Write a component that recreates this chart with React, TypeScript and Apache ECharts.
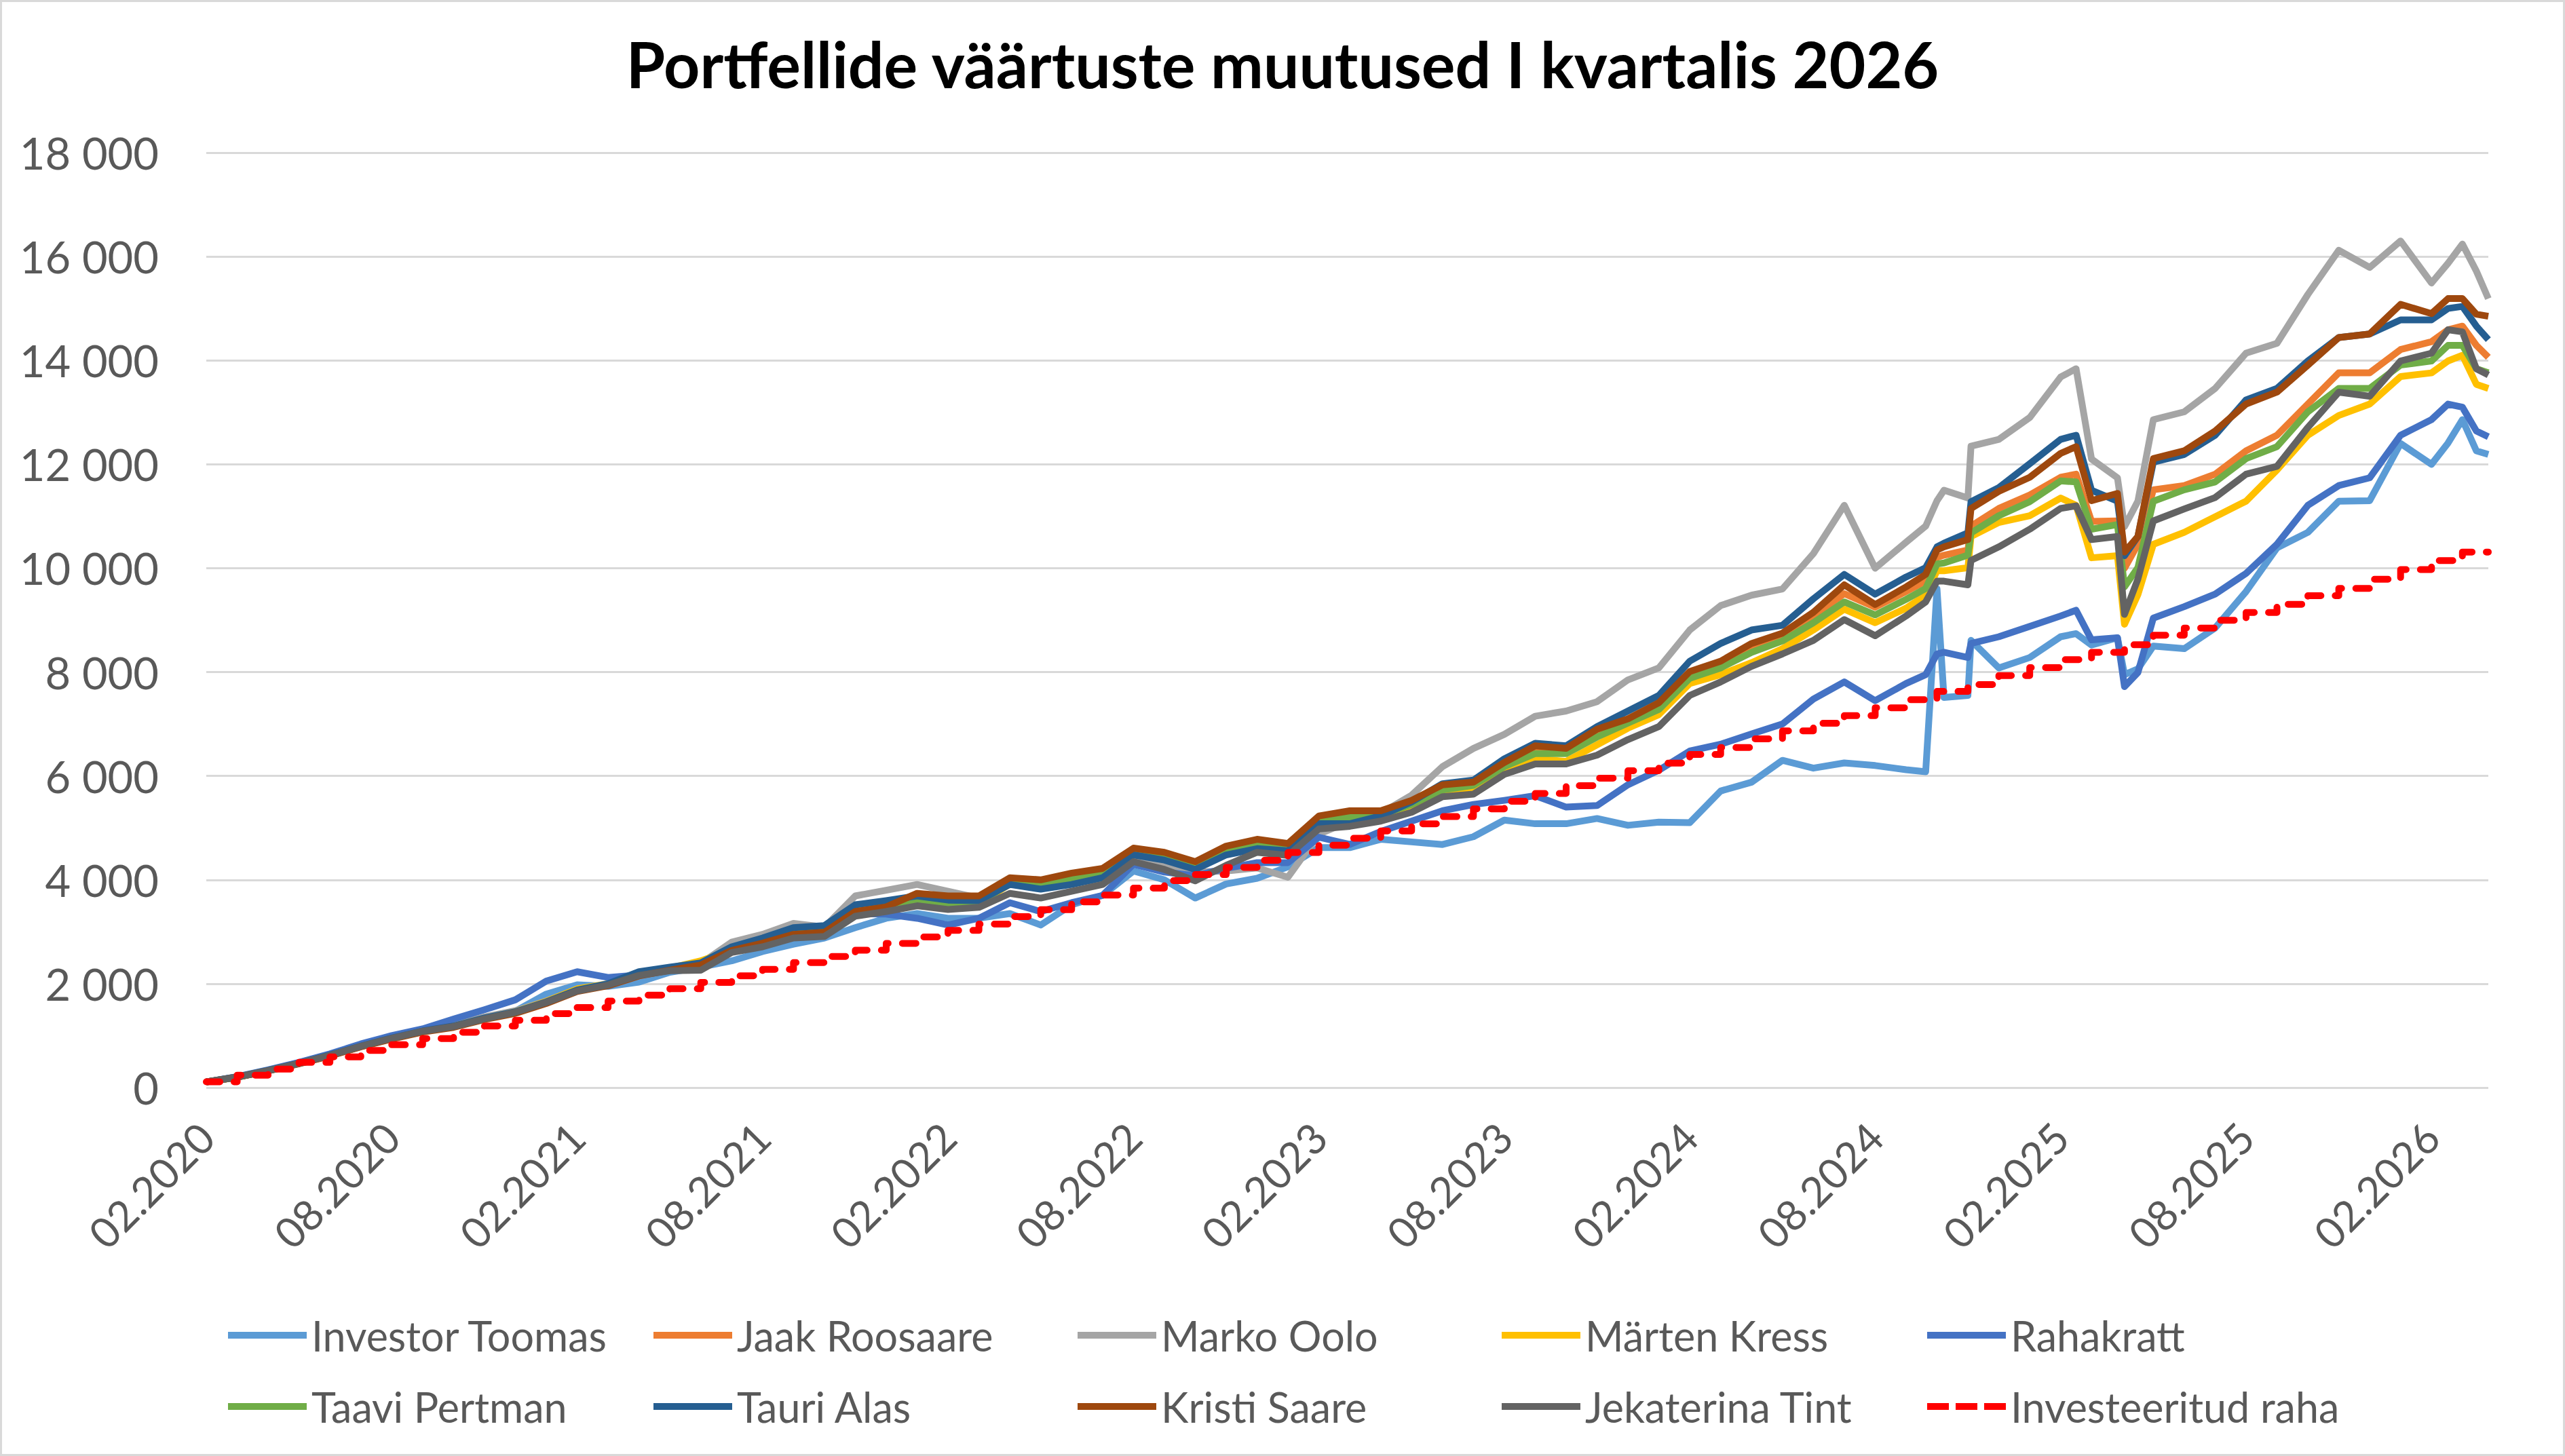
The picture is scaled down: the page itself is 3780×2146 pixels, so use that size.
import React, { useEffect, useRef } from "react";
import * as echarts from "echarts";

const dates = [
  "2020-02-05", "2020-03-05", "2020-04-05", "2020-05-05", "2020-06-05", "2020-07-05", "2020-08-05", "2020-09-05",
  "2020-10-05", "2020-11-05", "2020-12-05", "2021-01-05", "2021-02-05", "2021-03-05", "2021-04-05", "2021-05-05",
  "2021-06-05", "2021-07-05", "2021-08-05", "2021-09-05", "2021-10-05", "2021-11-05", "2021-12-05", "2022-01-05",
  "2022-02-05", "2022-03-05", "2022-04-05", "2022-05-05", "2022-06-05", "2022-07-05", "2022-08-05", "2022-09-05",
  "2022-10-05", "2022-11-05", "2022-12-05", "2023-01-05", "2023-02-05", "2023-03-05", "2023-04-05", "2023-05-05",
  "2023-06-05", "2023-07-05", "2023-08-05", "2023-09-05", "2023-10-05", "2023-11-05", "2023-12-05", "2024-01-05",
  "2024-02-05", "2024-03-05", "2024-04-05", "2024-05-05", "2024-06-05", "2024-07-05", "2024-08-05", "2024-09-05",
  "2024-09-24", "2024-10-05", "2024-10-12", "2024-11-05", "2024-11-08", "2024-12-05", "2025-01-05", "2025-02-05",
  "2025-02-19", "2025-03-05", "2025-03-31", "2025-04-07", "2025-04-20", "2025-05-05", "2025-06-05", "2025-07-05",
  "2025-08-05", "2025-09-05", "2025-10-05", "2025-11-05", "2025-12-05", "2026-01-05", "2026-02-05", "2026-02-20",
  "2026-03-05", "2026-03-19", "2026-03-31",
];

const investorToomas = [
  110, 205, 330, 475, 630, 810, 960, 1090, 1170, 1320, 1470, 1800, 1980, 1950, 2030, 2220,
  2320, 2440, 2620, 2760, 2880, 3080, 3260, 3350, 3260, 3260, 3350, 3130, 3520, 3700, 4170, 4000,
  3650, 3920, 4030, 4250, 4620, 4620, 4780, 4730, 4680, 4830, 5150, 5080, 5080, 5180, 5050, 5110,
  5100, 5710, 5880, 6300, 6150, 6250, 6200, 6120, 6080, 9600, 7510, 7550, 8610, 8080, 8280, 8680,
  8740, 8520, 8660, 7950, 8060, 8500, 8450, 8850, 9550, 10390, 10690, 11290, 11300, 12400, 12000, 12410,
  12860, 12260, 12190,
];
const jaakRoosaare = [
  110, 200, 325, 465, 615, 790, 945, 1080, 1175, 1330, 1450, 1640, 1870, 1980, 2170, 2280,
  2370, 2640, 2790, 2960, 3000, 3390, 3480, 3600, 3560, 3570, 3960, 3900, 4030, 4120, 4520, 4440,
  4300, 4580, 4720, 4650, 5180, 5230, 5270, 5480, 5780, 5880, 6230, 6560, 6500, 6830, 7050, 7350,
  7950, 8180, 8480, 8700, 9080, 9510, 9250, 9550, 9750, 10210, 10250, 10350, 10810, 11150, 11410, 11750,
  11810, 10900, 10910, 10000, 10460, 11510, 11590, 11810, 12260, 12560, 13160, 13760, 13760, 14210, 14360, 14590,
  14660, 14290, 14060,
];
const markoOolo = [
  110, 205, 335, 475, 630, 805, 965, 1100, 1210, 1360, 1480, 1670, 1890, 1990, 2160, 2290,
  2390, 2800, 2950, 3160, 3090, 3690, 3800, 3910, 3780, 3650, 3980, 3850, 3950, 4000, 4420, 4300,
  4150, 4170, 4230, 4050, 4880, 5130, 5280, 5630, 6180, 6530, 6800, 7150, 7250, 7430, 7850, 8080,
  8810, 9280, 9480, 9600, 10280, 11210, 10000, 10500, 10810, 11300, 11500, 11350, 12350, 12480, 12900, 13680,
  13840, 12100, 11740, 10800, 11290, 12860, 13010, 13460, 14140, 14330, 15270, 16120, 15790, 16300, 15490, 15870,
  16240, 15720, 15190,
];
const martenKress = [
  110, 200, 330, 470, 625, 800, 955, 1090, 1185, 1335, 1460, 1660, 1900, 2000, 2180, 2300,
  2440, 2650, 2800, 2970, 3010, 3410, 3490, 3560, 3520, 3530, 3920, 3880, 4000, 4080, 4500, 4400,
  4250, 4540, 4680, 4600, 5120, 5150, 5200, 5400, 5650, 5720, 6100, 6330, 6280, 6600, 6920, 7180,
  7780, 7950, 8180, 8450, 8810, 9210, 8950, 9230, 9480, 9950, 9950, 10010, 10610, 10880, 11010, 11350,
  11210, 10200, 10240, 8920, 9490, 10460, 10690, 10990, 11290, 11890, 12560, 12940, 13160, 13690, 13760, 13990,
  14100, 13540, 13460,
];
const rahakratt = [
  110, 210, 340, 485, 650, 840, 1000, 1130, 1320, 1500, 1690, 2050, 2230, 2120, 2170, 2300,
  2380, 2650, 2800, 2960, 3000, 3350, 3340, 3260, 3130, 3260, 3560, 3390, 3560, 3700, 4300, 4150,
  4080, 4220, 4330, 4330, 4820, 4680, 4930, 5130, 5330, 5450, 5530, 5620, 5400, 5430, 5830, 6110,
  6480, 6610, 6810, 7000, 7480, 7810, 7450, 7780, 7950, 8350, 8380, 8280, 8550, 8680, 8880, 9080,
  9190, 8620, 8660, 7720, 7990, 9040, 9260, 9500, 9900, 10460, 11210, 11590, 11740, 12560, 12860, 13160,
  13100, 12640, 12530,
];
const taaviPertman = [
  110, 200, 325, 465, 615, 790, 945, 1080, 1175, 1325, 1450, 1640, 1870, 1980, 2170, 2280,
  2380, 2640, 2790, 2960, 3000, 3390, 3470, 3580, 3540, 3550, 3940, 3880, 4010, 4100, 4510, 4420,
  4280, 4560, 4700, 4640, 5150, 5200, 5250, 5450, 5730, 5820, 6180, 6430, 6430, 6750, 7020, 7280,
  7880, 8080, 8380, 8600, 8950, 9350, 9100, 9400, 9610, 10080, 10100, 10250, 10680, 11010, 11280, 11680,
  11660, 10750, 10840, 9640, 10010, 11290, 11510, 11660, 12110, 12340, 13010, 13460, 13460, 13910, 13990, 14290,
  14290, 13840, 13760,
];
const tauriAlas = [
  110, 205, 330, 470, 625, 800, 955, 1090, 1185, 1340, 1460, 1650, 1880, 2000, 2230, 2320,
  2400, 2710, 2880, 3080, 3120, 3520, 3600, 3690, 3610, 3600, 3910, 3820, 3910, 4040, 4480, 4380,
  4200, 4480, 4600, 4560, 5080, 5080, 5230, 5500, 5850, 5920, 6330, 6630, 6580, 6950, 7250, 7550,
  8210, 8550, 8810, 8900, 9410, 9880, 9500, 9830, 10010, 10410, 10480, 10680, 11280, 11550, 12010, 12480,
  12560, 11500, 11290, 10240, 10610, 12040, 12190, 12560, 13240, 13460, 13990, 14440, 14510, 14780, 14780, 15000,
  15040, 14660, 14400,
];
const kristiSaare = [
  110, 200, 320, 460, 610, 785, 935, 1070, 1160, 1310, 1430, 1620, 1850, 1960, 2150, 2260,
  2360, 2640, 2780, 2950, 2990, 3390, 3480, 3740, 3690, 3690, 4040, 4000, 4130, 4220, 4610, 4530,
  4350, 4650, 4780, 4700, 5230, 5330, 5330, 5530, 5830, 5880, 6260, 6580, 6530, 6900, 7100, 7410,
  8010, 8210, 8550, 8750, 9150, 9680, 9300, 9640, 9880, 10350, 10410, 10550, 11150, 11480, 11750, 12210,
  12340, 11300, 11440, 10310, 10610, 12110, 12260, 12640, 13160, 13390, 13910, 14440, 14510, 15080, 14900, 15190,
  15190, 14890, 14850,
];
const jekaterinaTint = [
  110, 200, 325, 465, 620, 795, 950, 1085, 1175, 1325, 1450, 1640, 1860, 1975, 2160, 2250,
  2260, 2600, 2710, 2880, 2910, 3300, 3390, 3500, 3430, 3470, 3740, 3650, 3780, 3910, 4350, 4200,
  3980, 4280, 4530, 4470, 4980, 5030, 5130, 5300, 5600, 5650, 6030, 6230, 6230, 6400, 6700, 6950,
  7550, 7810, 8110, 8350, 8610, 9010, 8700, 9080, 9350, 9750, 9750, 9680, 10150, 10410, 10750, 11150,
  11200, 10550, 10610, 9110, 9790, 10910, 11140, 11360, 11810, 11960, 12710, 13390, 13310, 13990, 14140, 14590,
  14550, 13840, 13720,
];
const investeeritudRaha = [
  110, 240, 355, 485, 590, 715, 825, 945, 1065, 1185, 1295, 1425, 1540, 1665, 1780, 1905,
  2026, 2153, 2275, 2406, 2524, 2646, 2777, 2900, 3026, 3149, 3293, 3424, 3576, 3707, 3840, 3985,
  4100, 4240, 4376, 4526, 4666, 4801, 4942, 5077, 5217, 5367, 5513, 5663, 5813, 5958, 6100, 6247,
  6413, 6547, 6713, 6867, 7013, 7160, 7313, 7467, 7467, 7627, 7627, 7760, 7760, 7933, 8085, 8240,
  8240, 8380, 8380, 8525, 8525, 8710, 8848, 8998, 9148, 9305, 9471, 9610, 9786, 9974, 10146, 10146,
  10311, 10311, 10311,
];

const seriesNames = [
  "Investor Toomas", "Jaak Roosaare", "Marko Oolo", "Märten Kress", "Rahakratt",
  "Taavi Pertman", "Tauri Alas", "Kristi Saare", "Jekaterina Tint", "Investeeritud raha",
];
const seriesValues = [
  investorToomas, jaakRoosaare, markoOolo, martenKress, rahakratt,
  taaviPertman, tauriAlas, kristiSaare, jekaterinaTint, investeeritudRaha,
];
const seriesColors = [
  "#5B9BD5", "#ED7D31", "#A5A5A5", "#FFC000", "#4472C4",
  "#70AD47", "#255E91", "#9E480E", "#636363", "#FF0000",
];

const axisStart = "2020-02-05";
const axisEnd = "2026-03-31";
const yTicks = { min: 0, max: 18000, interval: 2000 };

function monthsFromStart(s: string): number {
  const [y, m, d] = s.split("-").map(Number);
  const [y0, m0, d0] = axisStart.split("-").map(Number);
  const dim = new Date(y, m, 0).getDate();
  return (y - y0) * 12 + (m - m0) + (d - d0) / dim;
}

function xLabel(v: number): string {
  const idx = 1 + Math.round(v);
  const yr = 2020 + Math.floor(idx / 12);
  const mo = (idx % 12) + 1;
  return `${String(mo).padStart(2, "0")}.${yr}`;
}

function yLabel(v: number): string {
  if (v < 1000) return String(v);
  return `${Math.floor(v / 1000)} ${String(v % 1000).padStart(3, "0")}`;
}

const FONT = "Lato, 'Open Sans', sans-serif";

export default function App() {
  const ref = useRef<HTMLDivElement>(null);

  useEffect(() => {
    document.body.style.margin = "0";
    if (!ref.current) return;
    const chart = echarts.init(ref.current, undefined, { renderer: "svg" });

    const xs = dates.map(monthsFromStart);
    const series = seriesNames.map((name, i) => {
      const isRed = i === seriesNames.length - 1;
      return {
        name,
        type: "line",
        data: xs.map((x, j) => [x, seriesValues[i][j]]),
        showSymbol: false,
        symbol: "none",
        step: isRed ? "end" : undefined,
        z: 2 + i,
        lineStyle: {
          color: seriesColors[i],
          width: 10,
          type: isRed ? [20, 21] : "solid",
          cap: isRed ? "round" : "butt",
          join: "round",
        },
        itemStyle: { color: seriesColors[i] },
      };
    });

    const solidIcon = "path://M0,0H116V10H0Z";
    const dashIcon = "path://M0,0H32V10H0Z M42,0H74V10H42Z M84,0H116V10H84Z";
    const columns = [
      ["Investor Toomas", "Taavi Pertman"],
      ["Jaak Roosaare", "Tauri Alas"],
      ["Marko Oolo", "Kristi Saare"],
      ["Märten Kress", "Jekaterina Tint"],
      ["Rahakratt", "Investeeritud raha"],
    ];
    const colLefts = [336, 963, 1588, 2213, 2840];
    const legends = columns.map((names, c) => ({
      orient: "vertical",
      left: colLefts[c],
      top: 1933,
      padding: 0,
      itemGap: 35,
      itemWidth: 116,
      itemHeight: 10,
      selectedMode: false,
      data: names.map((n) => ({ name: n, icon: n === "Investeeritud raha" ? dashIcon : solidIcon })),
      textStyle: { fontFamily: FONT, fontSize: 61, lineHeight: 70, color: "#595959", padding: [0, 0, 0, 2] },
    }));

    chart.setOption({
      animation: false,
      backgroundColor: "#ffffff",
      title: {
        text: "Portfellide väärtuste muutused I kvartalis 2026",
        left: "center",
        top: 42,
        textStyle: { fontFamily: FONT, fontSize: 93, fontWeight: "bold", color: "#000000" },
      },
      graphic: [
        {
          type: "rect",
          shape: { x: 1.5, y: 1.5, width: 3777, height: 2143 },
          style: { fill: "none", stroke: "#d9d9d9", lineWidth: 3 },
          silent: true,
        },
      ],
      legend: legends,
      grid: { left: 304, top: 225, width: 3363, height: 1378, containLabel: false },
      xAxis: {
        type: "value",
        min: 0,
        max: monthsFromStart(axisEnd),
        interval: 6,
        axisLine: { show: false },
        axisTick: { show: false },
        splitLine: { show: false },
        axisLabel: {
          rotate: 45,
          margin: 62,
          formatter: xLabel,
          showMaxLabel: false,
          fontFamily: FONT,
          fontSize: 62,
          color: "#595959",
        },
      },
      yAxis: {
        type: "value",
        min: yTicks.min,
        max: yTicks.max,
        interval: yTicks.interval,
        axisLine: { show: false },
        axisTick: { show: false },
        splitLine: { lineStyle: { color: "#d9d9d9", width: 3 } },
        axisLabel: {
          margin: 70,
          formatter: yLabel,
          fontFamily: FONT,
          fontSize: 65,
          color: "#595959",
        },
      },
      series,
    });

    return () => chart.dispose();
  }, []);

  return <div ref={ref} style={{ width: "3780px", height: "2146px" }} />;
}
